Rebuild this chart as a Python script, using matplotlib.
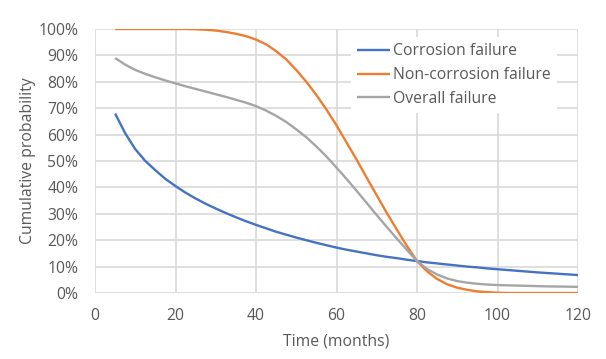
import matplotlib
matplotlib.use("Agg")
import matplotlib.pyplot as plt
from matplotlib.ticker import PercentFormatter

months = [5, 7.5, 10, 12.5, 15, 17.5, 20, 22.5, 25, 27.5, 30, 32.5, 35, 37.5, 40, 42.5, 45,
          47.5, 50, 52.5, 55, 57.5, 60, 62.5, 65, 67.5, 70, 72.5, 75, 77.5, 80, 82.5, 85,
          87.5, 90, 92.5, 95, 97.5, 100, 102.5, 105, 107.5, 110, 112.5, 115, 117.5, 120]
corrosion = [68, 60.5, 54.5, 50, 46.5, 43.2, 40.5, 38, 35.8, 33.8, 32, 30.3, 28.7, 27.2, 25.8,
             24.5, 23.2, 22.1, 21, 20, 19, 18.1, 17.2, 16.4, 15.7, 15, 14.3, 13.7, 13.2, 12.6,
             12.1, 11.6, 11.2, 10.8, 10.4, 10, 9.7, 9.3, 9.0, 8.7, 8.4, 8.1, 7.8, 7.55, 7.3,
             7.05, 6.8]
non_corrosion = [100, 100, 100, 100, 100, 100, 100, 100, 99.9, 99.7, 99.4, 98.9, 98.2, 97.3, 96,
                 94.2, 91.6, 88.5, 84.5, 80, 75, 69.5, 63.5, 57, 50.5, 43.7, 37, 30.3, 24, 17.8,
                 12.1, 8.2, 5.3, 3.3, 2.0, 1.2, 0.6, 0.3, 0.1, 0, 0, 0, 0, 0, 0, 0, 0]
overall = [89, 86.5, 84.5, 83, 81.7, 80.5, 79.4, 78.3, 77.3, 76.3, 75.3, 74.3, 73.2, 72.1, 70.8,
           69.1, 67.1, 64.8, 62, 59, 55.5, 51.7, 47.5, 43.2, 38.7, 34.1, 29.5, 25, 20.6, 16.3,
           12.1, 9.1, 7.0, 5.5, 4.5, 3.9, 3.5, 3.2, 3.0, 2.9, 2.8, 2.7, 2.6, 2.5, 2.45, 2.4, 2.3]

labels = ["Corrosion failure", "Non-corrosion failure", "Overall failure"]
colors = ["#4472C4", "#ED7D31", "#A5A5A5"]

plt.rcParams['font.family'] = ['Open Sans', 'DejaVu Sans']
txt = "#595959"
fs = 11.3

fig = plt.figure(figsize=(6.06, 3.59), dpi=100)
ax = fig.add_axes([95/606, 1-293/359, (578-95)/606, (293-29)/359])

for ys, lab, c in zip([corrosion, non_corrosion, overall], labels, colors):
    ax.plot(months, ys, color=c, lw=1.7, label=lab, solid_capstyle='butt', zorder=3)

ax.set_xlim(0, 120)
ax.set_ylim(0, 100)
ax.set_xticks(range(0, 121, 20))
ax.set_yticks(range(0, 101, 10))
ax.yaxis.set_major_formatter(PercentFormatter(decimals=0))
ax.grid(True, color="#D9D9D9", lw=1.2, zorder=0)
for s in ax.spines.values():
    s.set_visible(False)
ax.tick_params(length=0, labelsize=fs, labelcolor=txt, pad=12)
ax.tick_params(axis='x', pad=11)
ax.set_xlabel("Time (months)", fontsize=fs, color=txt, labelpad=7)
ax.set_ylabel("Cumulative probability", fontsize=fs, color=txt, labelpad=2)

leg = ax.legend(loc="upper right", bbox_to_anchor=(0.9565, 0.970), frameon=True,
                fontsize=fs, handlelength=2.1, handletextpad=0.2, labelspacing=0.5,
                borderpad=0.4, borderaxespad=0)
leg.get_frame().set_edgecolor("none")
leg.get_frame().set_facecolor("white")
leg.get_frame().set_alpha(1)
for t in leg.get_texts():
    t.set_color(txt)

fig.savefig("out.png", dpi=100)
